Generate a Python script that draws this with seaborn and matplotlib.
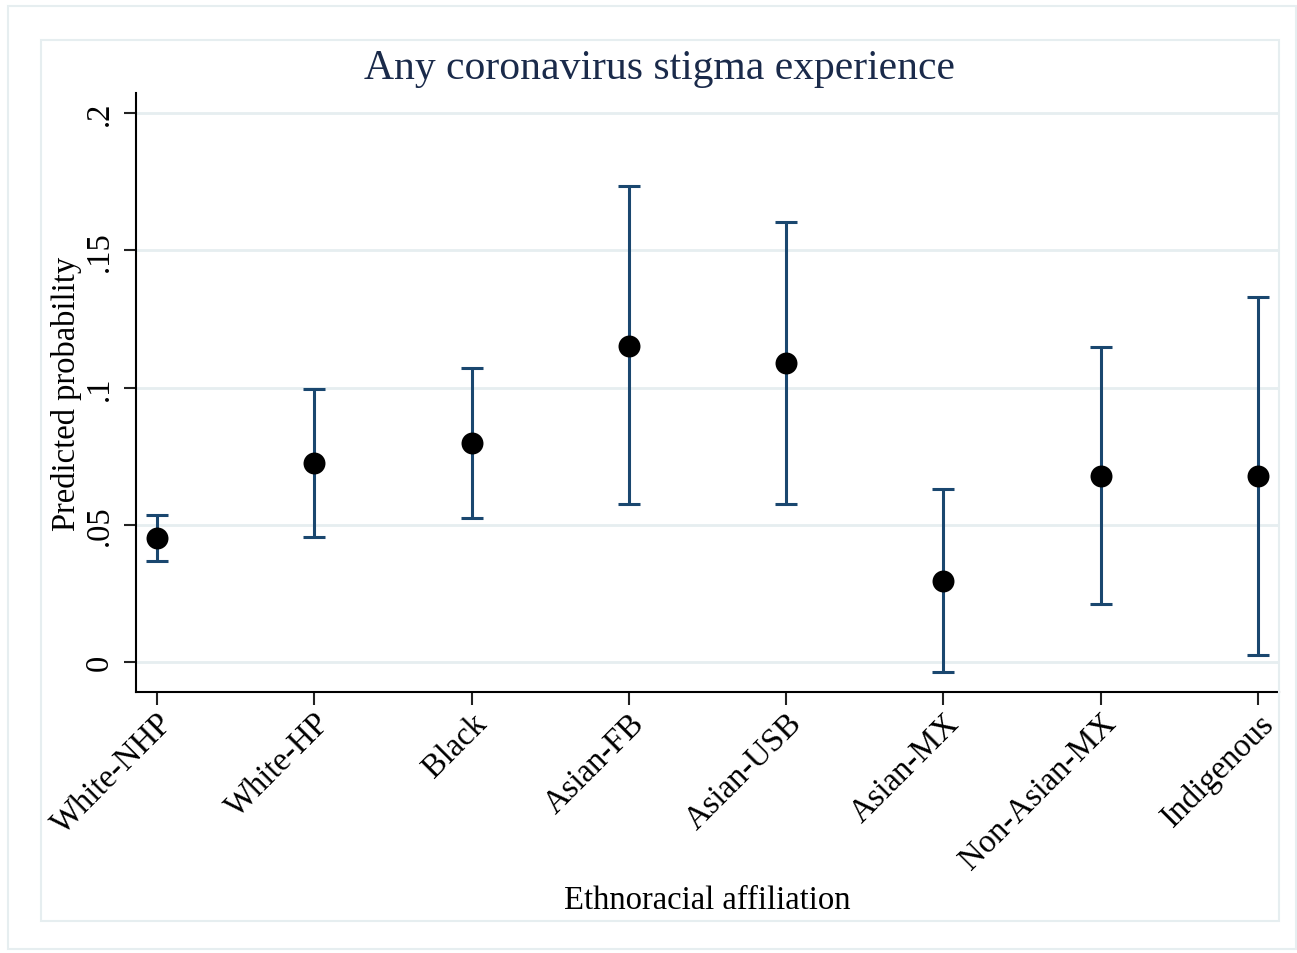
import numpy as np
import pandas as pd
import matplotlib
matplotlib.use("Agg")
import matplotlib.pyplot as plt
import seaborn as sns
from matplotlib.patches import Rectangle

categories = ["White-NHP", "White-HP", "Black", "Asian-FB", "Asian-USB",
              "Asian-MX", "Non-Asian-MX", "Indigenous"]
estimates = [0.0452, 0.0725, 0.0798, 0.1151, 0.1089, 0.0295, 0.0678, 0.0678]
ci_upper = [0.0536, 0.0995, 0.1071, 0.1734, 0.1603, 0.0630, 0.1148, 0.1330]
ci_lower = [0.0368, 0.0455, 0.0525, 0.0576, 0.0576, -0.0036, 0.0211, 0.0026]
yticks = [0, 0.05, 0.1, 0.15, 0.2]
ytick_labels = ["0", ".05", ".1", ".15", ".2"]

sns.set_theme(style="white")
plt.rcParams["font.family"] = ["Liberation Serif", "DejaVu Serif"]

W, H = 1297, 954
fig = plt.figure(figsize=(W / 100, H / 100), dpi=100)
fig.patch.set_facecolor("white")

frame_col = "#e6eef0"
fig.add_artist(Rectangle((8 / W, 1 - 950 / H), (1296 - 8) / W, (950 - 7) / H,
                         transform=fig.transFigure, fill=False,
                         edgecolor=frame_col, lw=1.5))
fig.add_artist(Rectangle((41 / W, 1 - 922 / H), (1279 - 41) / W, (922 - 41) / H,
                         transform=fig.transFigure, fill=False,
                         edgecolor=frame_col, lw=1.5))

ax = fig.add_axes([136 / W, 1 - 693 / H, (1279 - 136) / W, (693 - 94) / H])

df = pd.DataFrame({"group": categories, "est": estimates,
                   "lo": ci_lower, "hi": ci_upper})
xpos = np.arange(len(categories))

for y in yticks:
    ax.axhline(y, color=frame_col, lw=2, zorder=0)

est = df["est"].to_numpy()
ax.errorbar(xpos, est,
            yerr=[est - df["lo"].to_numpy(), df["hi"].to_numpy() - est],
            fmt="none", ecolor="#1a476f", elinewidth=2.2, capsize=8,
            capthick=2.2, zorder=2)
sns.scatterplot(data=df.assign(xp=xpos), x="xp", y="est", ax=ax, color="black",
                s=250, edgecolor="black", linewidth=0, zorder=3, legend=False)

fs = 23.5
ax.set_xlim(-0.1335, 7.133)
ax.set_ylim(-0.0109, 0.2073)
ax.set_xticks(xpos)
ax.set_xticklabels(categories, rotation=45, ha="right", rotation_mode="anchor",
                   fontsize=fs, color="black")
ax.set_yticks(yticks)
ax.set_yticklabels(ytick_labels, rotation=90, va="center", fontsize=fs,
                   color="black")
ax.tick_params(axis="both", direction="out", length=9, width=1.5,
               color="#222222", pad=6, left=True, bottom=True)
ax.tick_params(axis="x", pad=2)

sns.despine(ax=ax)
for s in ["left", "bottom"]:
    ax.spines[s].set_color("black")
    ax.spines[s].set_linewidth(1.5)

ax.set_xlabel("Ethnoracial affiliation", fontsize=fs, color="black", va="center")
ax.xaxis.set_label_coords(0.5, -(901 - 693) / (693 - 94))
ax.set_ylabel("Predicted probability", fontsize=fs, color="black", va="center")
ax.yaxis.set_label_coords(-(136 - 67) / (1279 - 136), 0.5)

fig.text(660 / W, 1 - 69 / H, "Any coronavirus stigma experience",
         ha="center", va="center", fontsize=30, color="#1a2a4a")

fig.savefig("out.png", dpi=100, facecolor="white")
